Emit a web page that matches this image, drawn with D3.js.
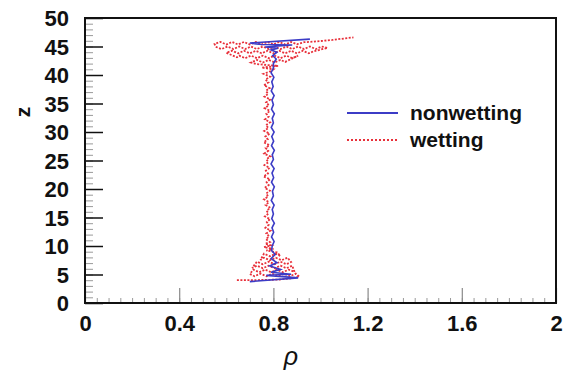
<!DOCTYPE html>
<html><head><meta charset="utf-8">
<script src="https://cdn.jsdelivr.net/npm/d3@7"></script>
<style>
html,body{margin:0;padding:0;background:#fff;}
svg{display:block;}
text{font-family:"Liberation Sans",Arial,Helvetica,sans-serif;}
</style></head>
<body>
<svg id="chart" width="572" height="371"></svg>
<script>
// ---- data ----
const xTickLabels = ["0","0.4","0.8","1.2","1.6","2"];
const xTickValues = [0,0.4,0.8,1.2,1.6,2];
const yTickValues = [0,5,10,15,20,25,30,35,40,45,50];
const seriesNames = ["nonwetting","wetting"];

// nonwetting profile: [rho, z]
const nonwetting = [
[0.70,3.75],[0.905,4.4],[0.77,4.85],[0.875,5.05],[0.79,5.4],[0.83,5.9],[0.785,6.5],[0.815,7.1],[0.79,7.8],[0.808,8.5],[0.792,9.2],
[0.795,10.0],[0.803,10.8],[0.792,11.6],[0.801,12.4],[0.794,13.2],[0.804,14.0],[0.793,14.8],[0.800,15.6],[0.795,16.4],[0.803,17.2],[0.791,18.0],[0.800,18.8],[0.796,19.6],[0.804,20.4],[0.792,21.2],[0.801,22.0],[0.794,22.8],[0.803,23.6],[0.790,24.4],[0.800,25.2],[0.795,26.0],[0.804,26.8],[0.792,27.6],[0.801,28.4],[0.793,29.2],[0.803,30.0],[0.791,30.8],[0.800,31.6],[0.795,32.4],[0.804,33.2],[0.792,34.0],[0.800,34.8],[0.794,35.6],[0.803,36.4],[0.791,37.2],[0.799,38.0],[0.793,38.8],[0.802,39.6],[0.790,40.4],[0.800,41.2],
[0.80,42.0],[0.812,42.8],[0.797,43.4],[0.815,44.0],[0.79,44.4],[0.82,44.7],[0.765,44.9],[0.88,45.25],[0.75,45.35],[0.70,45.6],[0.955,46.3]
];

// wetting profile: [rho, z]
const wetting = [
[0.645,4.0],[0.70,4.0],[0.76,4.05],[0.82,4.1],[0.87,4.3],[0.91,4.6],
[0.895,5.15],[0.87,4.7],[0.845,5.15],[0.82,4.7],[0.795,5.15],[0.77,4.7],[0.745,5.15],[0.72,4.7],[0.70,5.1],
[0.715,5.85],[0.74,5.4],[0.765,5.85],[0.79,5.4],[0.815,5.85],[0.84,5.4],[0.865,5.85],[0.89,5.45],
[0.88,6.55],[0.855,6.1],[0.83,6.55],[0.805,6.1],[0.78,6.55],[0.755,6.1],[0.73,6.55],[0.71,6.15],
[0.73,7.25],[0.755,6.8],[0.78,7.25],[0.805,6.8],[0.83,7.25],[0.855,6.8],[0.875,7.2],
[0.86,7.95],[0.835,7.5],[0.81,7.95],[0.785,7.5],[0.76,7.95],[0.745,7.55],
[0.76,8.65],[0.785,8.2],[0.81,8.65],[0.83,8.25],
[0.815,8.9],[0.77,9.2],[0.80,9.5],[0.76,9.8],[0.79,10.1],[0.765,10.4],
[0.785,10.7],[0.768,11.2],[0.782,11.7],[0.770,12.2],[0.788,12.7],[0.766,13.2],[0.780,13.7],[0.772,14.2],[0.786,14.7],[0.764,15.2],[0.779,15.7],[0.771,16.2],[0.787,16.7],[0.767,17.2],[0.781,17.7],[0.760,18.2],[0.778,18.7],[0.769,19.2],[0.785,19.7],[0.763,20.2],[0.780,20.7],[0.771,21.2],[0.786,21.7],[0.758,22.2],[0.777,22.7],[0.768,23.2],[0.784,23.7],[0.762,24.2],[0.779,24.7],[0.770,25.2],[0.787,25.7],[0.761,26.2],[0.778,26.7],[0.767,27.2],[0.783,27.7],[0.759,28.2],[0.776,28.7],[0.766,29.2],[0.784,29.7],[0.761,30.2],[0.779,30.7],[0.768,31.2],[0.786,31.7],[0.764,32.2],[0.780,32.7],[0.770,33.2],[0.785,33.7],[0.763,34.2],[0.781,34.7],[0.769,35.2],[0.787,35.7],[0.762,36.2],[0.778,36.7],[0.768,37.2],[0.784,37.7],[0.760,38.2],[0.779,38.7],[0.766,39.2],[0.786,39.7],[0.758,40.2],[0.790,40.7],
[0.80,41.0],[0.75,41.3],[0.82,41.6],[0.73,41.9],
[0.705,42.2],[0.73,42.65],[0.755,42.2],[0.78,42.65],[0.805,42.2],[0.83,42.65],[0.85,42.3],
[0.905,43.4],[0.88,42.95],[0.855,43.4],[0.83,42.95],[0.805,43.4],[0.78,42.95],[0.755,43.4],[0.73,42.95],[0.705,43.4],[0.68,42.95],[0.655,43.4],[0.645,43.1],
[0.60,43.9],[0.625,44.25],[0.65,43.8],[0.675,44.25],[0.70,43.8],[0.725,44.25],[0.75,43.8],[0.775,44.25],[0.80,43.8],[0.825,44.25],[0.85,43.8],[0.875,44.25],[0.90,43.8],[0.925,44.25],[0.95,43.8],[0.97,44.15],
[1.03,44.75],[1.005,45.0],[0.98,44.55],[0.955,45.0],[0.93,44.55],[0.905,45.0],[0.88,44.55],[0.855,45.0],[0.83,44.55],[0.805,45.0],[0.78,44.55],[0.755,45.0],[0.73,44.55],[0.705,45.0],[0.68,44.55],[0.655,45.0],[0.63,44.55],[0.605,45.0],[0.58,44.55],[0.555,44.95],
[0.55,45.45],[0.575,45.8],[0.60,45.35],[0.625,45.8],[0.65,45.35],[0.675,45.8],[0.70,45.35],[0.725,45.8],[0.75,45.35],[0.775,45.8],[0.80,45.35],[0.825,45.8],[0.85,45.35],[0.875,45.8],[0.90,45.4],[0.93,45.75],
[0.97,45.85],[1.01,46.0],[1.05,46.15],[1.09,46.35],[1.14,46.6]
];

// ---- drawing ----
const svg = d3.select("#chart");
const X0 = 85, X1 = 556, Y0 = 303, Y1 = 18;
const x = d3.scaleLinear().domain([0,2]).range([X0,X1]);
const y = d3.scaleLinear().domain([0,50]).range([Y0,Y1]);

const BLUE = "#3c3cc6", RED = "#e8303a";

// minor ticks
const xMinor = svg.append("g").attr("transform",`translate(0,${Y0})`)
  .call(d3.axisBottom(x).ticks(40).tickSize(-5).tickFormat(""));
xMinor.select(".domain").remove();
xMinor.selectAll("line").attr("stroke","#9a9a9a").attr("stroke-width",1);

const yMinor = svg.append("g").attr("transform",`translate(${X0},0)`)
  .call(d3.axisLeft(y).ticks(50).tickSize(-8).tickFormat(""));
yMinor.select(".domain").remove();
yMinor.selectAll("line").attr("stroke","#9a9a9a").attr("stroke-width",1);

// major ticks
const xMajor = svg.append("g").attr("transform",`translate(0,${Y0})`)
  .call(d3.axisBottom(x).tickValues(xTickValues).tickSize(-15)
    .tickFormat((d,i)=>xTickLabels[i]));
xMajor.select(".domain").remove();
xMajor.selectAll("line").attr("stroke","#8a8a8a").attr("stroke-width",1.2);
xMajor.selectAll("text").attr("font-size",22).attr("font-weight","bold").attr("fill","#111")
  .attr("y",null).attr("dy",null).attr("transform","translate(0,28)");

const yMajor = svg.append("g").attr("transform",`translate(${X0},0)`)
  .call(d3.axisLeft(y).tickValues(yTickValues).tickSize(-18).tickFormat(d=>String(d)));
yMajor.select(".domain").remove();
yMajor.selectAll("line").attr("stroke","#111").attr("stroke-width",1.5);
yMajor.selectAll("text").attr("font-size",22).attr("font-weight","bold").attr("fill","#111")
  .attr("x",-16).attr("dy","0.36em");

// frame
svg.append("rect").attr("x",X0).attr("y",Y1).attr("width",X1-X0).attr("height",Y0-Y1)
  .attr("fill","none").attr("stroke","#111").attr("stroke-width",2);

// lines
const line = d3.line().x(d=>x(d[0])).y(d=>y(d[1]));
svg.append("path").datum(wetting).attr("d",line).attr("fill","none")
  .attr("stroke",RED).attr("stroke-width",1.8).attr("stroke-dasharray","2,1.5");
svg.append("path").datum(nonwetting).attr("d",line).attr("fill","none")
  .attr("stroke",BLUE).attr("stroke-width",1.6);

// legend
const lg = svg.append("g");
lg.append("line").attr("x1",347).attr("x2",398).attr("y1",113).attr("y2",113)
  .attr("stroke",BLUE).attr("stroke-width",1.8);
lg.append("text").attr("x",410).attr("y",120).text(seriesNames[0])
  .attr("font-size",21).attr("font-weight","bold").attr("fill","#111");
lg.append("line").attr("x1",347).attr("x2",399).attr("y1",140).attr("y2",140)
  .attr("stroke",RED).attr("stroke-width",1.8).attr("stroke-dasharray","2,2");
lg.append("text").attr("x",410).attr("y",147).text(seriesNames[1])
  .attr("font-size",21).attr("font-weight","bold").attr("fill","#111");

// axis titles
svg.append("text").attr("transform","translate(30,112) rotate(-90)")
  .attr("text-anchor","middle").attr("font-size",21).attr("font-weight","bold")
  .attr("fill","#111").text("z");
svg.append("text").attr("x",291).attr("y",365).attr("text-anchor","middle")
  .attr("font-size",25).attr("font-style","italic").attr("fill","#111").text("ρ");
</script>
</body></html>
